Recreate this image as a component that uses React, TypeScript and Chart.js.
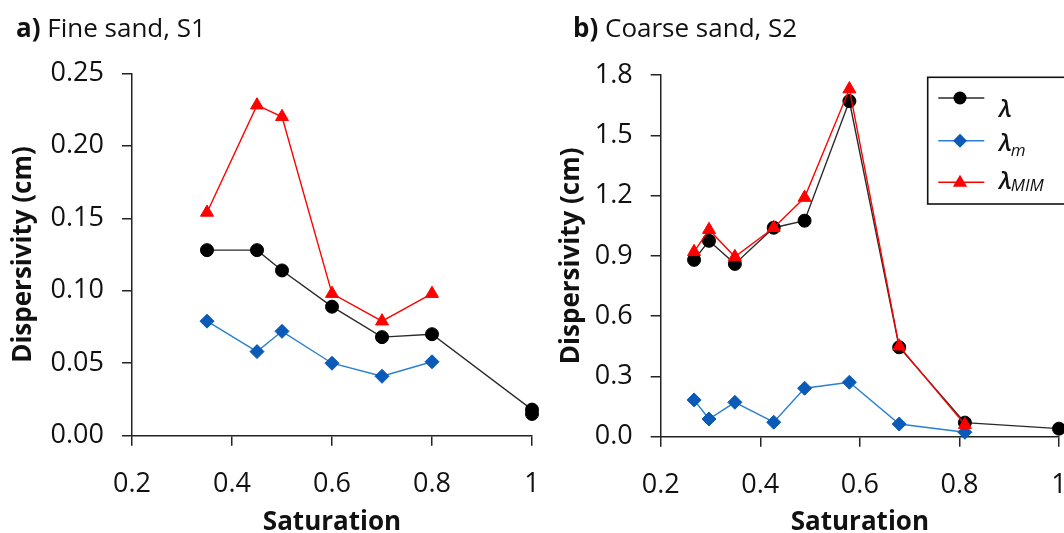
import React, { useEffect, useRef } from "react";
import { Chart, registerables } from "chart.js";
Chart.register(...registerables);

// ---------- Panel a) Fine sand, S1 ----------
const satA_lambda = [0.35, 0.45, 0.5, 0.6, 0.7, 0.8, 1.0, 1.0];
const lambdaA = [0.128, 0.128, 0.114, 0.089, 0.068, 0.07, 0.018, 0.015];
const satA_other = [0.35, 0.45, 0.5, 0.6, 0.7, 0.8];
const lambdaMA = [0.079, 0.058, 0.072, 0.05, 0.041, 0.051];
const lambdaMIMA = [0.154, 0.228, 0.22, 0.098, 0.079, 0.098];
const yTicksA = [0, 0.05, 0.1, 0.15, 0.2, 0.25];

// ---------- Panel b) Coarse sand, S2 ----------
const satB_lambda = [0.267, 0.297, 0.349, 0.427, 0.489, 0.579, 0.679, 0.811, 1.0];
const lambdaB = [0.88, 0.975, 0.86, 1.04, 1.075, 1.67, 0.445, 0.07, 0.04];
const satB_other = [0.267, 0.297, 0.349, 0.427, 0.489, 0.579, 0.679, 0.811];
const lambdaMB = [0.183, 0.088, 0.171, 0.072, 0.241, 0.271, 0.063, 0.022];
const lambdaMIMB = [0.92, 1.03, 0.895, 1.04, 1.19, 1.73, 0.45, 0.06];
const yTicksB = [0, 0.3, 0.6, 0.9, 1.2, 1.5, 1.8];

const xTicks = [0.2, 0.4, 0.6, 0.8, 1];

const FONT = '"Open Sans", "DejaVu Sans", sans-serif';
const BLACK_LINE = "#2a2a2a";
const BLUE_LINE = "#2a7fd2";
const BLUE_MARK = "#0a5ab8";
const RED = "#ff0000";
const AXIS = "#222222";
const TEXT = "#111111";

const pts = (xs: number[], ys: number[]) => xs.map((x, i) => ({ x, y: ys[i] }));

function titlePlugin(bold: string, rest: string, x: number, y: number) {
  return {
    id: "panelTitle",
    afterDraw(chart: any) {
      const ctx = chart.ctx;
      ctx.save();
      ctx.fillStyle = TEXT;
      ctx.textBaseline = "alphabetic";
      ctx.textAlign = "left";
      ctx.font = `bold 26px ${FONT}`;
      ctx.fillText(bold, x, y);
      const w = ctx.measureText(bold).width;
      ctx.font = `26px ${FONT}`;
      ctx.fillText(rest, x + w, y);
      ctx.restore();
    },
  };
}

function drawMarker(ctx: CanvasRenderingContext2D, kind: string, x: number, y: number, color: string) {
  ctx.fillStyle = color;
  ctx.strokeStyle = color;
  ctx.beginPath();
  if (kind === "circle") {
    ctx.arc(x, y, 6.5, 0, Math.PI * 2);
  } else if (kind === "diamond") {
    const r = 7;
    ctx.moveTo(x, y - r);
    ctx.lineTo(x + r, y);
    ctx.lineTo(x, y + r);
    ctx.lineTo(x - r, y);
    ctx.closePath();
  } else {
    const r = 7.5;
    ctx.moveTo(x, y - r);
    ctx.lineTo(x + r * 0.95, y + r * 0.6);
    ctx.lineTo(x - r * 0.95, y + r * 0.6);
    ctx.closePath();
  }
  ctx.fill();
}

const legendEntries = [
  { kind: "circle", line: BLACK_LINE, mark: "#000000", main: "λ", sub: "", lineY: 98, baseY: 116.7, subDy: 0 },
  { kind: "diamond", line: BLUE_LINE, mark: BLUE_MARK, main: "λ", sub: "m", lineY: 140.7, baseY: 150.7, subDy: 5 },
  { kind: "triangle", line: RED, mark: RED, main: "λ", sub: "MIM", lineY: 182.3, baseY: 189, subDy: 2 },
];

const legendPlugin = {
  id: "customLegend",
  afterDraw(chart: any) {
    const ctx = chart.ctx as CanvasRenderingContext2D;
    ctx.save();
    ctx.strokeStyle = TEXT;
    ctx.lineWidth = 1.6;
    ctx.strokeRect(397.7, 77.3, 300, 126.7);
    for (const e of legendEntries) {
      ctx.strokeStyle = e.line;
      ctx.lineWidth = 1.6;
      ctx.beginPath();
      ctx.moveTo(408.3, e.lineY);
      ctx.lineTo(454.3, e.lineY);
      ctx.stroke();
      drawMarker(ctx, e.kind, 430, e.lineY, e.mark);
      ctx.fillStyle = TEXT;
      ctx.textAlign = "left";
      ctx.textBaseline = "alphabetic";
      ctx.font = `italic 600 24px ${FONT}`;
      ctx.fillText(e.main, 469, e.baseY);
      const w = ctx.measureText(e.main).width;
      if (e.sub) {
        ctx.font = `italic 17px ${FONT}`;
        ctx.fillText(e.sub, 469 + w - 1, e.baseY + e.subDy);
      }
    }
    ctx.restore();
  },
};

function makeConfig(opts: {
  lambda: { x: number; y: number }[];
  lm: { x: number; y: number }[];
  lmim: { x: number; y: number }[];
  yTicks: number[];
  yDecimals: number;
  yWidth: number;
  xHeight: number;
  padding: any;
  yTitlePad: number;
  plugins: any[];
}) {
  const yMax = opts.yTicks[opts.yTicks.length - 1];
  const yStep = opts.yTicks[1] - opts.yTicks[0];
  return {
    type: "scatter" as const,
    data: {
      datasets: [
        {
          label: "λMIM",
          data: opts.lmim,
          showLine: true,
          borderColor: RED,
          backgroundColor: RED,
          borderWidth: 1.4,
          pointStyle: "triangle",
          pointRadius: 7.5,
          pointBorderWidth: 1,
          pointBorderColor: RED,
          pointBackgroundColor: RED,
          clip: false,
          order: 1,
        },
        {
          label: "λm",
          data: opts.lm,
          showLine: true,
          borderColor: BLUE_LINE,
          backgroundColor: BLUE_MARK,
          borderWidth: 1.4,
          pointStyle: "rectRot",
          pointRadius: 7,
          pointBorderWidth: 1,
          pointBorderColor: BLUE_MARK,
          pointBackgroundColor: BLUE_MARK,
          clip: false,
          order: 2,
        },
        {
          label: "λ",
          data: opts.lambda,
          showLine: true,
          borderColor: BLACK_LINE,
          backgroundColor: "#000",
          borderWidth: 1.4,
          pointStyle: "circle",
          pointRadius: 6.5,
          pointBorderWidth: 1,
          pointBorderColor: "#000",
          pointBackgroundColor: "#000",
          clip: false,
          order: 3,
        },
      ],
    },
    options: {
      animation: false,
      responsive: false,
      devicePixelRatio: 1,
      layout: { padding: opts.padding },
      plugins: { legend: { display: false }, tooltip: { enabled: false }, title: { display: false } },
      scales: {
        x: {
          type: "linear",
          min: 0.2,
          max: 1,
          afterBuildTicks: (s: any) => {
            s.ticks = xTicks.map((v) => ({ value: v }));
          },
          afterFit: (s: any) => {
            s.height = opts.xHeight;
          },
          ticks: {
            color: TEXT,
            font: { family: FONT, size: 27 },
            padding: 22,
            maxRotation: 0,
            callback: (v: number) => (Math.abs(v - 1) < 1e-9 ? "1" : v.toFixed(1)),
          },
          grid: { drawOnChartArea: false, drawTicks: true, tickLength: 10, color: AXIS, lineWidth: 1.5 },
          border: { display: true, color: AXIS, width: 1.5 },
          title: {
            display: true,
            text: "Saturation",
            color: TEXT,
            font: { family: FONT, size: 26, weight: "bold", lineHeight: 0.78 },
            padding: { top: 0, bottom: 0 },
          },
        },
        y: {
          type: "linear",
          min: 0,
          max: yMax,
          afterBuildTicks: (s: any) => {
            s.ticks = opts.yTicks.map((v) => ({ value: v }));
          },
          afterFit: (s: any) => {
            s.width = opts.yWidth;
          },
          ticks: {
            color: TEXT,
            font: { family: FONT, size: 27 },
            padding: 18,
            stepSize: yStep,
            callback: (v: number) => v.toFixed(opts.yDecimals),
          },
          grid: { drawOnChartArea: false, drawTicks: true, tickLength: 10, color: AXIS, lineWidth: 1.5 },
          border: { display: true, color: AXIS, width: 1.5 },
          title: {
            display: true,
            text: "Dispersivity (cm)",
            color: TEXT,
            font: { family: FONT, size: 26, weight: "bold", lineHeight: 1.2 },
            padding: { top: opts.yTitlePad, bottom: 0 },
          },
        },
      },
    },
    plugins: opts.plugins,
  };
}

function Panel(props: { left: number; width: number; config: any }) {
  const ref = useRef<HTMLCanvasElement | null>(null);
  useEffect(() => {
    if (!ref.current) return;
    const chart = new Chart(ref.current, props.config);
    return () => chart.destroy();
  }, []);
  return (
    <canvas
      ref={ref}
      width={props.width}
      height={533}
      style={{ position: "absolute", left: props.left, top: 0, width: props.width, height: 533 }}
    />
  );
}

const configA = makeConfig({
  lambda: pts(satA_lambda, lambdaA),
  lm: pts(satA_other, lambdaMA),
  lmim: pts(satA_other, lambdaMIMA),
  yTicks: yTicksA,
  yDecimals: 2,
  yWidth: 132,
  xHeight: 533 - 435.7,
  padding: { left: 0, top: 73.3, right: 45, bottom: 0 },
  yTitlePad: 8,
  plugins: [titlePlugin("a)", " Fine sand, S1", 16, 36.5)],
});

const configB = makeConfig({
  lambda: pts(satB_lambda, lambdaB),
  lm: pts(satB_other, lambdaMB),
  lmim: pts(satB_other, lambdaMIMB),
  yTicks: yTicksB,
  yDecimals: 1,
  yWidth: 130.7,
  xHeight: 533 - 436.7,
  padding: { left: 0, top: 75, right: 45, bottom: 0 },
  yTitlePad: 26,
  plugins: [titlePlugin("b)", " Coarse sand, S2", 43, 36.5), legendPlugin],
});

export default function App() {
  return (
    <div
      style={{
        position: "absolute",
        left: 0,
        top: 0,
        width: 1064,
        height: 533,
        overflow: "hidden",
        background: "#ffffff",
      }}
    >
      <Panel left={0} width={577.3} config={configA} />
      <Panel left={530} width={574.3} config={configB} />
    </div>
  );
}
